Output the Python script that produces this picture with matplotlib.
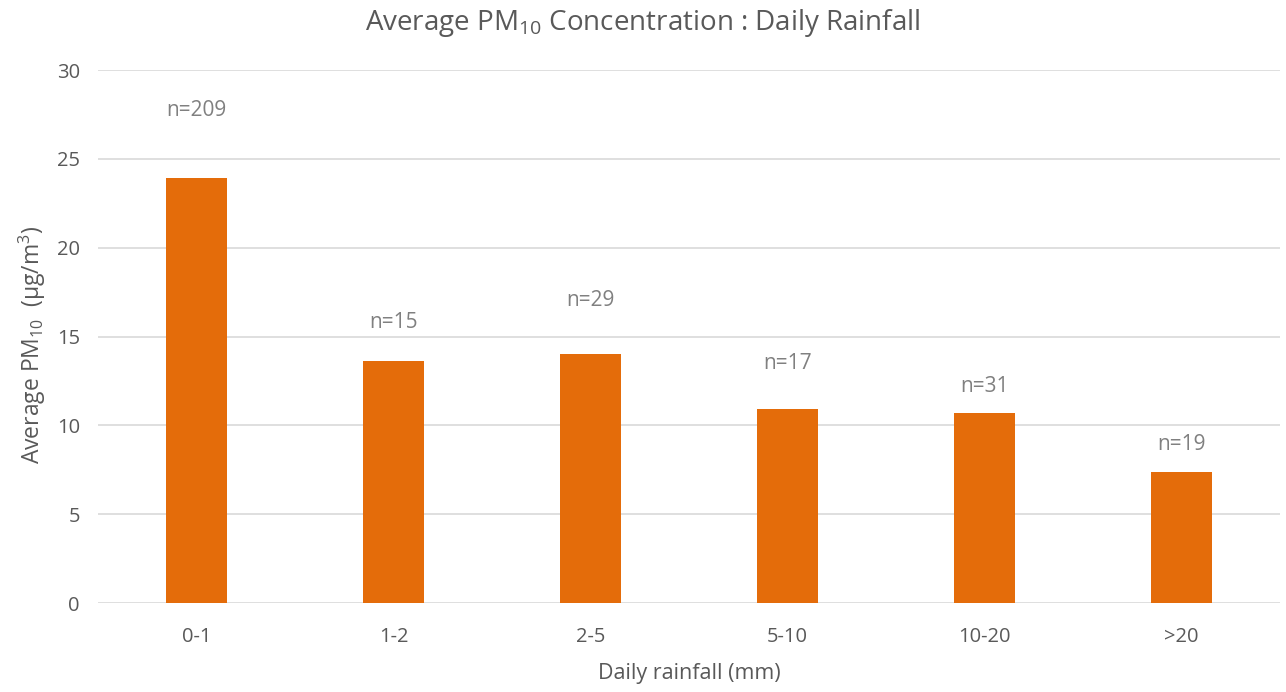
import matplotlib
matplotlib.use("Agg")
import matplotlib.pyplot as plt
import numpy as np

# Average PM10 per daily rainfall class
categories = ['0-1', '1-2', '2-5', '5-10', '10-20', '>20']
pm10 = [23.9, 13.6, 14.0, 10.9, 10.7, 7.4]
n_days = [209, 15, 29, 17, 31, 19]
# heights (data units) where the sample counts sit
label_y = [27.7, 15.8, 17.0, 13.5, 12.2, 8.9]

plt.rcParams['font.family'] = ['Open Sans', 'DejaVu Sans']
plt.rcParams['mathtext.fontset'] = 'custom'
plt.rcParams['mathtext.rm'] = 'Open Sans'
plt.rcParams['mathtext.it'] = 'Open Sans'

text_c = '#595959'
bar_c = '#E46C0A'

fig = plt.figure(figsize=(12.86, 6.92), dpi=100)
ax = fig.add_axes([0.0762, 0.1286, 0.9191, 0.7702])

x = np.arange(len(categories))
ax.bar(x, pm10, width=0.305, color=bar_c, zorder=3)
for xi, n, yl in zip(x, n_days, label_y):
    ax.text(xi, yl, 'n=%d' % n, ha='center', va='center', fontsize=15, color='#808080')

ax.set_xlim(-0.5, len(categories) - 0.5)
ax.set_ylim(0, 30)
ax.set_yticks(range(0, 31, 5))
ax.set_xticks(x)
ax.set_xticklabels(categories)
ax.yaxis.grid(True, color='#D9D9D9', linewidth=1.2, zorder=0)
ax.set_axisbelow(True)
for s in ax.spines.values():
    s.set_visible(False)
ax.tick_params(axis='both', length=0, labelsize=14.5, colors=text_c)
ax.tick_params(axis='x', pad=17)
ax.tick_params(axis='y', pad=13)

ax.set_xlabel('Daily rainfall (mm)', fontsize=15.5, color=text_c, labelpad=12)
ax.set_ylabel(r'Average PM$_{10}$  (µg/m$^{3}$)', fontsize=16.5, color=text_c)
ax.yaxis.set_label_coords(-0.0423, 0.484)
fig.suptitle(r'Average PM$_{10}$ Concentration : Daily Rainfall', fontsize=20, color=text_c, y=0.99)

fig.savefig('out.png', dpi=100, facecolor='white')
